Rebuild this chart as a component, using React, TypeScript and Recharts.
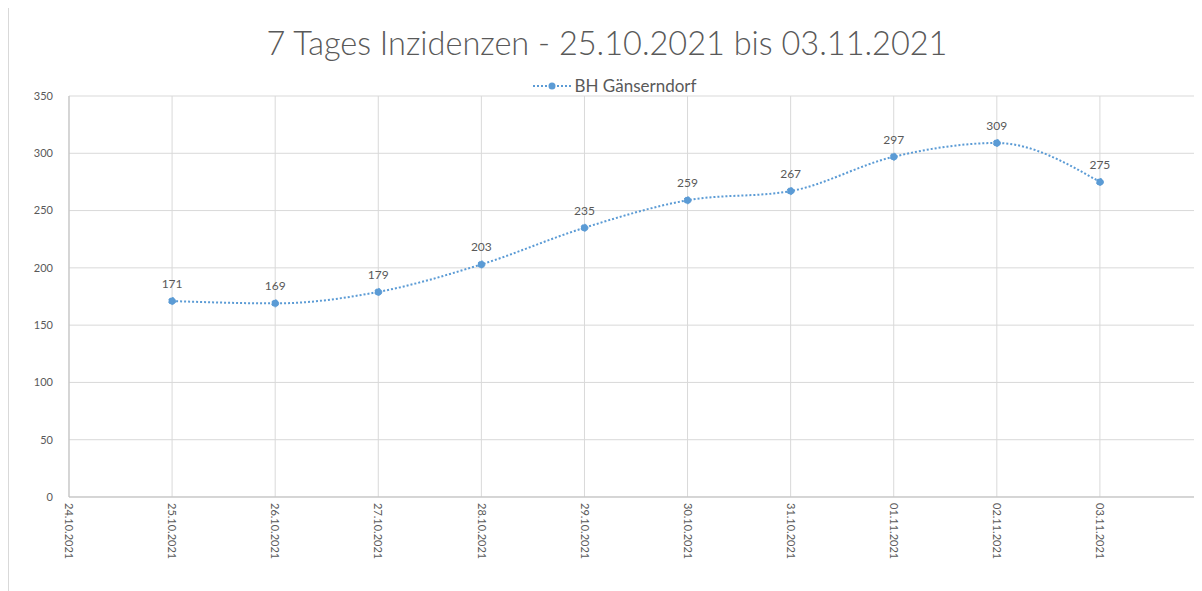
import { LineChart, Line, XAxis, YAxis, CartesianGrid, LabelList } from "recharts";

const dates = [
  "24.10.2021",
  "25.10.2021",
  "26.10.2021",
  "27.10.2021",
  "28.10.2021",
  "29.10.2021",
  "30.10.2021",
  "31.10.2021",
  "01.11.2021",
  "02.11.2021",
  "03.11.2021",
  "04.11.2021",
];
const incidence = [null, 171, 169, 179, 203, 235, 259, 267, 297, 309, 275, null];
const yTicks = [0, 50, 100, 150, 200, 250, 300, 350];

const SERIES = "BH Gänserndorf";
const BLUE = "#5b9bd5";
const GREY = "#595959";
const FONT = "Lato, 'Open Sans', sans-serif";

const data = dates.map((d, i) => ({ date: d, value: incidence[i] }));

const DateTick = ({ x, y, payload }: any) => (
  <text
    transform={`translate(${x},${y - 2}) rotate(90)`}
    textAnchor="start"
    dy="0.35em"
    fill={GREY}
    fontSize={11}
    fontFamily={FONT}
  >
    {payload.value}
  </text>
);

const App = () => {
  return (
    <div
      style={{
        position: "relative",
        marginTop: -4,
        width: 1194,
        height: 587,
        overflow: "hidden",
        borderLeft: "1px solid #d9d9d9",
        borderTop: "1px solid #d9d9d9",
        boxSizing: "border-box",
      }}
    >
      <div
        style={{
          position: "absolute",
          left: 0,
          top: 18,
          width: 1196,
          textAlign: "center",
          fontFamily: FONT,
          fontSize: 32.5,
          fontWeight: 300,
          color: GREY,
        }}
      >
        7 Tages Inzidenzen - 25.10.2021 bis 03.11.2021
      </div>
      {/* legend */}
      <div
        style={{
          position: "absolute",
          left: 0,
          top: 70,
          width: 1210,
          display: "flex",
          justifyContent: "center",
          alignItems: "center",
          fontFamily: FONT,
        }}
      >
        <svg width={40} height={10}>
          <line x1={1} y1={5} x2={39} y2={5} stroke={BLUE} strokeWidth={2} strokeDasharray="2 2" />
          <circle cx={20} cy={5} r={3.5} fill={BLUE} />
        </svg>
        <span style={{ fontSize: 17, color: GREY, marginLeft: 3 }}>{SERIES}</span>
      </div>
      <LineChart
        width={1240}
        height={590}
        data={data}
        margin={{ top: 91, right: 46, bottom: 28, left: 20 }}
      >
        <CartesianGrid stroke="#d9d9d9" strokeWidth={1} />
        <XAxis
          dataKey="date"
          interval={0}
          tick={<DateTick />}
          tickLine={false}
          axisLine={{ stroke: "#bfbfbf" }}
          height={70}
          padding={{ left: 0, right: 0 }}
        />
        <YAxis
          domain={[0, 350]}
          ticks={yTicks}
          width={40}
          tickLine={false}
          axisLine={{ stroke: "#bfbfbf" }}
          tick={{ fill: GREY, fontSize: 11, fontFamily: FONT }}
          tickMargin={10}
        />
        <Line
          type="monotone"
          dataKey="value"
          name={SERIES}
          stroke={BLUE}
          strokeWidth={2}
          strokeDasharray="2 2"
          dot={{ r: 3.5, fill: BLUE, stroke: BLUE, strokeWidth: 1 }}
          activeDot={false}
          isAnimationActive={false}
        >
          <LabelList
            dataKey="value"
            position="top"
            offset={13}
            fill={GREY}
            fontSize={12}
            fontFamily={FONT}
          />
        </Line>
      </LineChart>
    </div>
  );
};

export default App;
